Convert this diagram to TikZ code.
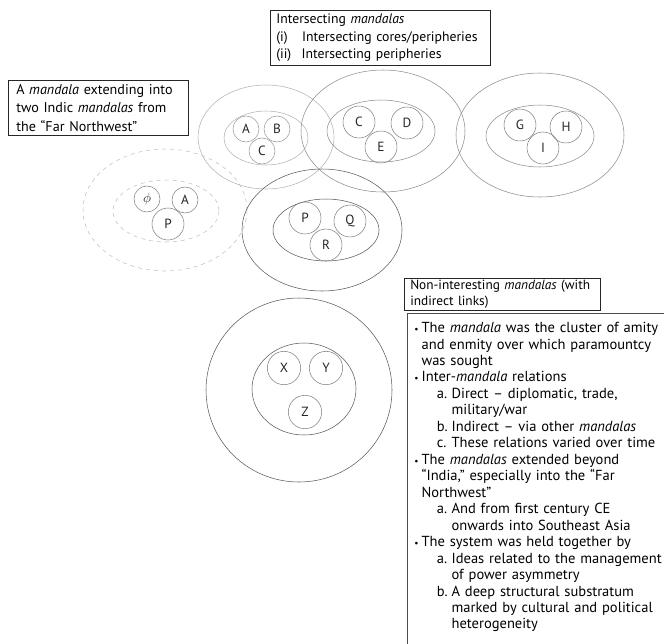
\documentclass[tikz,border=0pt]{standalone}
\usepackage{fontspec}
\setmainfont{PT Sans}
\usetikzlibrary{positioning}
\newcommand{\bul}{\makebox[5.5pt][l]{\scriptsize\textbullet}}
\newcommand{\cont}{\hspace*{5.5pt}}
\newcommand{\subl}[1]{\hspace*{17pt}\makebox[11pt][l]{#1}}
\newcommand{\subcont}{\hspace*{28pt}}

\begin{document}
\begin{tikzpicture}[x=0.75pt, y=-0.75pt, font=\fontsize{10}{12}\selectfont,
    core/.style={circle, draw=black!50, text=black!85, minimum size=#1, inner sep=0pt},
    core/.default=24pt,
    labelbox/.style={draw=black!85, anchor=north west, align=left, inner xsep=4.5pt, inner ysep=3pt},
    faint/.style={draw=black!30},
    mid/.style={draw=black!45},
    dark/.style={draw=black!65},
    ghost/.style={draw=black!25, dashed}]
    \useasboundingbox (0,0) rectangle (664,643);

    \node[labelbox, text width=156pt, font=\fontsize{10.3}{13}\selectfont] (cross) at (270,10)
        {Intersecting \emph{mandalas}\\(i)\hspace{1.05em}Intersecting cores/peripheries\\(ii)\hspace{0.75em}Intersecting peripheries};
    \node[labelbox, text width=123pt, inner xsep=6pt, font=\fontsize{10.6}{13.8}\selectfont] (farnw) at (8,80)
        {A \emph{mandala} extending into\\two Indic \emph{mandalas} from\\the “Far Northwest”};
    \node[labelbox, text width=138pt, inner ysep=1.5pt, font=\fontsize{10}{11.5}\selectfont] (nonint) at (404,278)
        {Non-interesting \emph{mandalas} (with\\indirect links)};

    \draw[faint] (266,137) ellipse [x radius=68, y radius=52];
    \draw[faint] (266,138) ellipse [x radius=42, y radius=27];
    \node[core=19.5pt, draw=black!40] (a1) at (246,129) {A};
    \node[core=19.5pt, draw=black!40] (b1) at (277,129) {B};
    \node[core=19.5pt, draw=black!40] (c1) at (262,151) {C};

    \draw[mid] (383,131) ellipse [x radius=82, y radius=61];
    \draw[mid] (381,131) ellipse [x radius=54, y radius=31];
    \node[core] (c2) at (359,122) {C};
    \node[core] (d2) at (407,123) {D};
    \node[core] (e2) at (381,147) {E};

    \draw[mid] (540,135) ellipse [x radius=84, y radius=62];
    \draw[mid] (540,136) ellipse [x radius=54, y radius=31];
    \node[core] (g3) at (520,125) {G};
    \node[core] (h3) at (566,127) {H};
    \node[core] (i3) at (543,148) {I};

    \draw[ghost] (165,210) ellipse [x radius=82, y radius=61];
    \draw[ghost] (166,211) ellipse [x radius=53, y radius=31];
    \node[core=19.5pt] (phi4) at (147,199) {$\phi$};
    \node[core=19.5pt] (a4) at (185,200) {A};
    \node[core] (p4) at (168,224) {P};

    \draw[dark] (322,230) ellipse [x radius=80, y radius=61];
    \draw[dark] (326,230) ellipse [x radius=53, y radius=31];
    \node[core] (p5) at (305,218) {P};
    \node[core] (q5) at (350,221) {Q};
    \node[core] (r5) at (326,245) {R};

    \draw[dark] (299,390) ellipse [x radius=93, y radius=92];
    \draw[dark] (304,389) ellipse [x radius=52, y radius=46];
    \node[core=25pt] (x6) at (284,368) {X};
    \node[core=25pt] (y6) at (326,368) {Y};
    \node[core=25pt] (z6) at (305,412) {Z};

    \node[anchor=north west, align=left, text width=215pt, inner sep=0pt, font=\fontsize{10.9}{12.35}\selectfont] (notes) at (414,322)
        {\bul The \emph{mandala} was the cluster of amity\\
         \cont and enmity over which paramountcy\\
         \cont was sought\\
         \bul Inter-\emph{mandala} relations\\
         \subl{a.}Direct – diplomatic, trade,\\
         \subcont military/war\\
         \subl{b.}Indirect – via other \emph{mandalas}\\
         \subl{c.}These relations varied over time\\
         \bul The \emph{mandalas} extended beyond\\
         \cont “India,” especially into the “Far\\
         \cont Northwest”\\
         \subl{a.}And from first century CE\\
         \subcont onwards into Southeast Asia\\
         \bul The system was held together by\\
         \subl{a.}Ideas related to the management\\
         \subcont of power asymmetry\\
         \subl{b.}A deep structural substratum\\
         \subcont marked by cultural and political\\
         \subcont heterogeneity};
    \coordinate (rim) at (670,650);
    \coordinate (notecorner) at (407,313);
    \draw[black!70] (notecorner -| rim) -- (notecorner) -- (notecorner |- rim);
\end{tikzpicture}
\end{document}
